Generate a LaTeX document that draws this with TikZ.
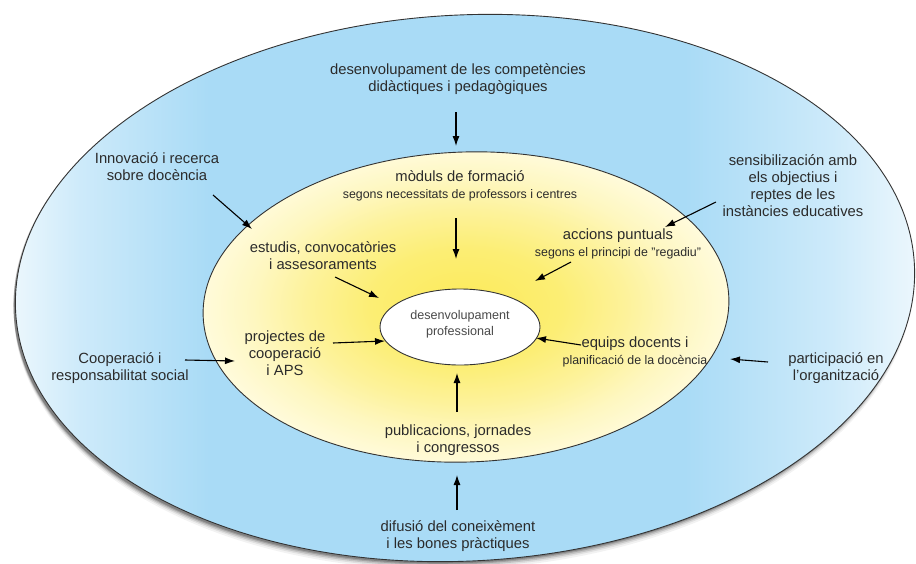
\documentclass[tikz,border=0pt]{standalone}
\usepackage{fontspec}
\setmainfont{Liberation Sans}
\usetikzlibrary{arrows.meta,shapes.geometric}
\definecolor{txt}{HTML}{2B2B2B}
\definecolor{ctxt}{HTML}{4A4A4A}
\definecolor{bl0}{HTML}{EEF8FD}
\definecolor{bl1}{HTML}{CDEAFA}
\definecolor{bl2}{HTML}{A9DBF6}
\definecolor{ye0}{HTML}{FCEA58}
\definecolor{ye1}{HTML}{FCEE74}
\definecolor{ye2}{HTML}{FDF29A}
\definecolor{ye3}{HTML}{FEF7C0}
\definecolor{ye4}{HTML}{FFFBDC}
\pgfdeclarehorizontalshading{outershade}{100bp}{color(0bp)=(bl0); color(25bp)=(bl0); color(29bp)=(bl1); color(36bp)=(bl2); color(62bp)=(bl2); color(70bp)=(bl1); color(75bp)=(bl0); color(100bp)=(bl0)}
\pgfdeclareradialshading{innershade}{\pgfpoint{0bp}{0bp}}{color(0bp)=(ye0); color(9bp)=(ye1); color(15bp)=(ye2); color(20bp)=(ye3); color(25bp)=(ye4); color(50bp)=(ye4)}
\tikzset{
  lbl/.style={text=txt, font=\fontsize{14.8}{17}\selectfont, align=center, inner sep=0pt},
  arr/.style={draw=black, line width=1.1pt, -{Latex[length=10pt,width=7pt]}},
  ring/.style={ellipse, draw=black!80, line width=0.9pt, inner sep=0pt}
}
\newcommand{\smtxt}{\fontsize{12.4}{15}\selectfont}
\begin{document}
\begin{tikzpicture}[x=1pt,y=-1pt]
\useasboundingbox (0,0) rectangle (916,563);
\fill[white] (0,0) rectangle (916,563);
% soft shadow of the outer ring
\foreach \d/\o in {8/0.05,6/0.08,4.5/0.12,3/0.16,1.8/0.2}{
  \fill[black,opacity=\o,rotate around={3:(465,288)}] (463,288+\d) ellipse [x radius=450pt, y radius=273pt];
}
\node[ring, minimum width=900pt, minimum height=546pt, rotate=3, shading=outershade] (outer) at (465,288) {};
\node[ring, minimum width=526pt, minimum height=310pt, rotate=2, shading=innershade] (inner) at (466,307) {};
\node[ring, minimum width=160pt, minimum height=76pt, fill=white] (core) at (460,327) {};
\node[text=ctxt, font=\fontsize{12.6}{16}\selectfont, align=center] (coret) at (460,324) {desenvolupament\\professional};

% labels
\node[lbl] (top) at (458,79) {desenvolupament de les competències\\didàctiques i pedagògiques};
\node[lbl] (innov) at (157,167) {Innovació i recerca\\sobre docència};
\node[lbl] (modul) at (460,186) {mòduls de formació\\{\smtxt segons necessitats de professors i centres}};
\node[lbl] (estud) at (323,256) {estudis, convocatòries\\i assesoraments};
\node[lbl] (sensib) at (793,186) {sensibilización amb\\els objectius i\\reptes de les\\instàncies educatives};
\node[lbl] (accions) at (618,244) {accions puntuals\\{\smtxt segons el principi de "regadiu"}};
\node[lbl] (proj) at (285,353) {projectes de\\cooperació\\i APS};
\node[lbl] (coop) at (120,368) {Cooperació i\\responsabilitat social};
\node[lbl] (equips) at (635,352) {equips docents i\\{\smtxt planificació de la docència}};
\node[lbl] (partic) at (836,368) {participació en\\l'organització};
\node[lbl] (publ) at (458,440) {publicacions, jornades\\i congressos};
\node[lbl] (difus) at (458,536) {difusió del coneixèment\\i les bones pràctiques};

% arrow end points
\coordinate (s1) at (456,112);  \coordinate (e1) at (456,146);
\coordinate (s2) at (213,195);  \coordinate (e2) at (252,229);
\coordinate (s3) at (456,218);  \coordinate (e3) at (456,259);
\coordinate (s4) at (335,277);  \coordinate (e4) at (379,298);
\coordinate (s5) at (716,202);  \coordinate (e5) at (665,227);
\coordinate (s6) at (571,262);  \coordinate (e6) at (535,281);
\coordinate (s7) at (333,343);  \coordinate (e7) at (385,341);
\coordinate (s8) at (185,360);  \coordinate (e8) at (235,361);
\coordinate (s9) at (581,345);  \coordinate (e9) at (536,338);
\coordinate (s10) at (768,362); \coordinate (e10) at (730,359);
\coordinate (s11) at (457,412); \coordinate (e11) at (457,373);
\coordinate (s12) at (457,510); \coordinate (e12) at (457,475);
\foreach \i in {1,...,12}{\draw[arr] (s\i) -- (e\i);}
\end{tikzpicture}
\end{document}
